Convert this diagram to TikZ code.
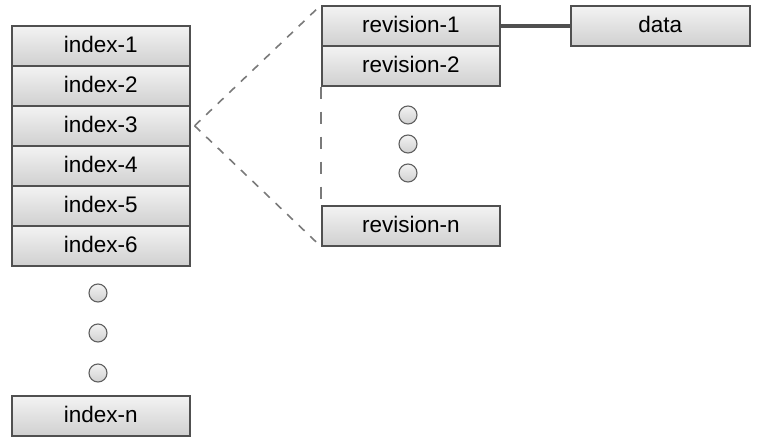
\documentclass[tikz,border=0pt]{standalone}
\usepackage{fontspec}
\setmainfont{Liberation Sans}
\definecolor{boxline}{HTML}{505050}
\definecolor{boxtop}{HTML}{F3F3F3}
\definecolor{boxbot}{HTML}{D0D0D0}
\definecolor{dashcol}{HTML}{7A7A7A}
\definecolor{dotline}{HTML}{606060}
\begin{document}
\begin{tikzpicture}[x=1pt,y=-1pt,
  box/.style={draw=boxline, line width=1.6pt, top color=boxtop, bottom color=boxbot,
    minimum width=178pt, minimum height=40pt, inner sep=0pt, anchor=north west,
    text height=16pt, text depth=3pt,
    font=\fontsize{22.5}{22.5}\selectfont},
  dotnode/.style={circle, draw=dotline, line width=1.1pt, minimum size=18pt, inner sep=0pt,
    top color=boxtop, bottom color=boxbot},
  diagdash/.style={draw=dashcol, line width=1.6pt, dash pattern=on 8pt off 8pt},
  vertdash/.style={draw=dashcol, line width=1.6pt, dash pattern=on 12pt off 13pt},
  link/.style={draw=boxline, line width=4pt}]
\useasboundingbox (0,0) rectangle (760,444);
% index column
\node[box] (i1) at (11,25) {index-1};
\node[box] (i2) at (11,65) {index-2};
\node[box] (i3) at (11,105) {index-3};
\node[box] (i4) at (11,145) {index-4};
\node[box] (i5) at (11,185) {index-5};
\node[box] (i6) at (11,225) {index-6};
\node[dotnode] (d1) at (98,293) {};
\node[dotnode] (d2) at (98,333) {};
\node[dotnode] (d3) at (98,373) {};
\node[box] (in) at (11,395) {index-n};
% revision column
\node[box] (r1) at (321,5) {revision-1};
\node[box] (r2) at (321,45) {revision-2};
\node[dotnode] (e1) at (408,115) {};
\node[dotnode] (e2) at (408,144) {};
\node[dotnode] (e3) at (408,173) {};
\node[box] (rn) at (321,205) {revision-n};
\node[box, minimum width=179pt] (data) at (570,5) {data};
% connectors
\coordinate (apex) at ([xshift=4pt]i3.east);
\draw[diagdash] (apex) -- (r1.north west);
\draw[diagdash] (apex) -- (rn.south west);
\draw[vertdash] (r2.south west) -- (rn.north west);
\draw[link] (r1.east) -- (data.west);
\end{tikzpicture}
\end{document}
